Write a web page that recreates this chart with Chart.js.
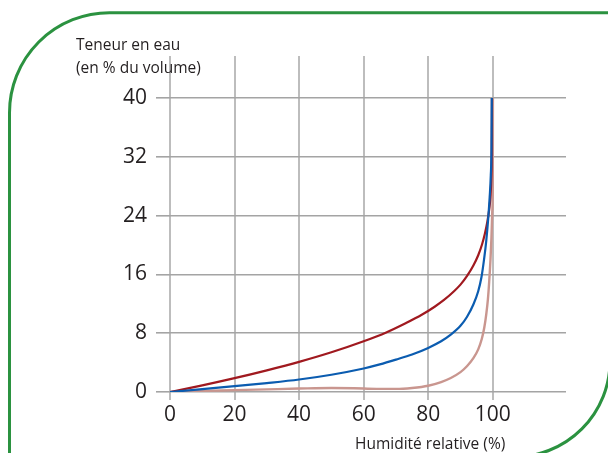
<!DOCTYPE html>
<html lang="fr">
<head>
<meta charset="utf-8">
<title>Teneur en eau / humidité relative</title>
<script src="https://cdn.jsdelivr.net/npm/chart.js@4.4.1/dist/chart.umd.min.js"></script>
<style>
    html, body { margin: 0; padding: 0; background: #fff; }
    #wrap { position: relative; width: 608px; height: 453px; }
</style>
</head>
<body>
<div id="wrap"><canvas id="chart" width="608" height="453"></canvas></div>
<script>
// Tick labels
const xTicks = [0, 20, 40, 60, 80, 100];
const yTicks = [0, 8, 16, 24, 32, 40];

// Curves (humidité relative %, teneur en eau %)
const blueX = [0, 10, 20, 30, 40, 50, 60, 65, 70, 75, 80, 84, 87, 90, 92, 94, 95.5, 96.5, 97.3, 98, 98.6, 99.05, 99.4, 99.6, 99.7];
const blueY = [0, 0.38, 0.8, 1.22, 1.7, 2.35, 3.2, 3.75, 4.4, 5.1, 6.0, 6.9, 7.8, 9.0, 10.2, 11.9, 13.7, 15.6, 18.0, 20.6, 23.6, 26.5, 29.5, 33, 40];

const redX = [0, 10, 20, 30, 40, 50, 60, 67, 73, 78, 82, 85, 88, 90, 92, 94, 95.5, 96.7, 97.6, 98.3, 98.9, 99.3, 99.55, 99.7, 99.75];
const redY = [0, 0.9, 1.88, 2.95, 4.1, 5.4, 6.9, 8.1, 9.35, 10.5, 11.6, 12.55, 13.7, 14.6, 15.75, 17.2, 18.6, 20.1, 21.6, 23.1, 24.8, 26.6, 29, 33, 40];

const pinkX = [0, 10, 20, 30, 40, 50, 57, 64, 70, 75, 80, 84, 87, 90, 92, 94, 95.5, 96.6, 97.4, 98, 98.5, 98.9, 99.3, 99.6, 99.85, 100, 100.05];
const pinkY = [0, 0.15, 0.25, 0.36, 0.47, 0.55, 0.52, 0.42, 0.42, 0.55, 0.85, 1.35, 1.9, 2.7, 3.5, 4.6, 5.8, 7.2, 8.8, 10.6, 12.6, 15, 18, 21, 24.5, 28, 40];

function toPoints(xs, ys) {
    return xs.map((x, i) => ({ x: x, y: ys[i] }));
}

const FONT = '"Open Sans", "Liberation Sans", sans-serif';
const TEXT = '#231f20';

// Green frame and axis titles
const decorations = {
    id: 'decorations',
    beforeDraw(chart) {
        const ctx = chart.ctx;
        const l = 9.5, t = 12.7, r = 610, b = 457;
        const rTL = 100, rBR = 96;
        ctx.save();
        ctx.beginPath();
        ctx.moveTo(l, b + 20);
        ctx.lineTo(l, t + rTL);
        ctx.arcTo(l, t, l + rTL, t, rTL);
        ctx.lineTo(r, t);
        ctx.lineTo(r, b - rBR);
        ctx.arcTo(r, b, r - rBR, b, rBR);
        ctx.lineTo(l - 20, b);
        ctx.strokeStyle = '#2b9240';
        ctx.lineWidth = 3;
        ctx.stroke();
        ctx.restore();
    },
    afterDraw(chart) {
        const ctx = chart.ctx;
        ctx.save();
        ctx.fillStyle = TEXT;
        ctx.font = '15.5px ' + FONT;
        ctx.textAlign = 'left';
        ctx.textBaseline = 'alphabetic';
        ctx.fillText('Teneur en eau', 76, 50);
        ctx.fillText('(en % du volume)', 76, 73);
        ctx.fillText('Humidité relative (%)', 355, 449);
        ctx.restore();
    }
};

new Chart(document.getElementById('chart'), {
    type: 'scatter',
    data: {
        datasets: [
            {
                label: 'bleu',
                data: toPoints(blueX, blueY),
                borderColor: '#0b5cb0',
                borderWidth: 2.2,
                showLine: true,
                pointRadius: 0,
                cubicInterpolationMode: 'monotone'
            },
            {
                label: 'rouge',
                data: toPoints(redX, redY),
                borderColor: '#a0191f',
                borderWidth: 2.2,
                showLine: true,
                pointRadius: 0,
                cubicInterpolationMode: 'monotone'
            },
            {
                label: 'rose',
                data: toPoints(pinkX, pinkY),
                borderColor: '#c9968f',
                borderWidth: 2.4,
                showLine: true,
                pointRadius: 0,
                cubicInterpolationMode: 'monotone'
            }
        ]
    },
    options: {
        responsive: false,
        animation: false,
        layout: { padding: { left: 0, top: 56, right: 42, bottom: 0 } },
        plugins: {
            legend: { display: false },
            tooltip: { enabled: false }
        },
        scales: {
            x: {
                type: 'linear',
                min: 0,
                max: 122.7,
                afterBuildTicks: scale => { scale.ticks = xTicks.map(v => ({ value: v })); },
                afterFit: scale => { scale.height = 61; },
                border: { display: false },
                grid: { color: '#bdbdbd', lineWidth: 2, tickLength: 8 },
                ticks: {
                    color: TEXT,
                    font: { family: FONT, size: 21 },
                    padding: 2,
                    maxRotation: 0,
                    autoSkip: false
                }
            },
            y: {
                type: 'linear',
                min: 0,
                max: 45.7,
                afterBuildTicks: scale => { scale.ticks = yTicks.map(v => ({ value: v })); },
                afterFit: scale => { scale.width = 170; },
                border: { display: false },
                grid: { color: '#a4a4a4', lineWidth: 1.6, tickLength: 14 },
                ticks: {
                    color: TEXT,
                    font: { family: FONT, size: 21 },
                    padding: 9,
                    autoSkip: false
                }
            }
        }
    },
    plugins: [decorations]
});
</script>
</body>
</html>
